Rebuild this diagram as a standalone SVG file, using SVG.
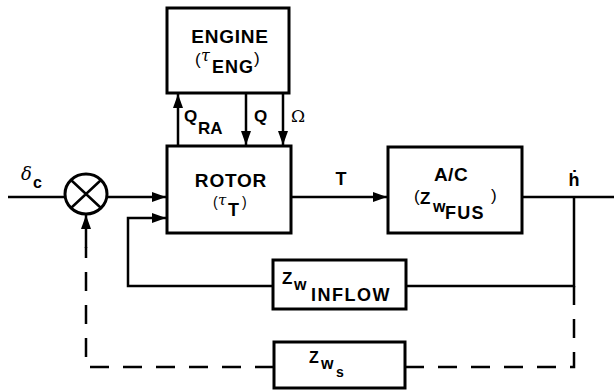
<svg xmlns="http://www.w3.org/2000/svg" width="614" height="391" viewBox="0 0 614 391">
<style>
.box{fill:#fff;stroke:#000;stroke-width:3}
.ln{fill:none;stroke:#000;stroke-width:2.5}
.dash{fill:none;stroke:#000;stroke-width:2.5;stroke-dasharray:19 14}
.t{font-family:"Liberation Sans","DejaVu Sans",Arial,sans-serif;font-weight:bold;fill:#000}
.g{font-family:"DejaVu Serif","Liberation Serif",serif;fill:#000}
</style>
<defs>
<marker id="ah" markerUnits="userSpaceOnUse" markerWidth="14" markerHeight="10" viewBox="0 0 14 10" refX="14" refY="5" orient="auto">
<path d="M0,0 L14,5 L0,10 Z" fill="#000"/>
</marker>
</defs>
<rect width="614" height="391" fill="#fff"/>

<g id="connectors">
<path class="ln" d="M8,197 H65"/>
<path class="ln" d="M107,197 H166" marker-end="url(#ah)"/>
<path class="ln" d="M291,197 H387" marker-end="url(#ah)"/>
<path class="ln" d="M522,197 H614"/>
<path class="ln" d="M574,197 V286 H406"/>
<path class="ln" d="M273,286 H128 V218 H166" marker-end="url(#ah)"/>
<path class="ln" d="M178,146 V94" marker-end="url(#ah)"/>
<path class="ln" d="M246,93 V145" marker-end="url(#ah)"/>
<path class="ln" d="M283,93 V145" marker-end="url(#ah)"/>
<path class="dash" d="M574,286 V367 H405"/>
<path class="dash" d="M274,367 H86 V247"/>
<path class="ln" d="M86,248 V215" marker-end="url(#ah)"/>
</g>

<g id="sum">
<ellipse cx="86" cy="194" rx="21" ry="20" fill="#fff" stroke="#000" stroke-width="3"/>
<path class="ln" d="M71,180 L101,208 M101,180 L71,208"/>
</g>

<g id="engine">
<rect class="box" x="167" y="8" width="122" height="85"/>
<text class="t" x="230" y="43" font-size="19" letter-spacing="0.8" text-anchor="middle">ENGINE</text>
<text class="t" font-size="17"><tspan x="195" y="65" font-weight="normal">(</tspan><tspan class="g" x="201" y="61" font-size="16" font-style="italic" font-weight="normal">τ</tspan><tspan x="212" y="73" font-size="18" letter-spacing="1">ENG</tspan><tspan x="254" y="64" font-weight="normal">)</tspan></text>
</g>

<g id="rotor">
<rect class="box" x="167" y="146" width="124" height="87"/>
<text class="t" x="231" y="187" font-size="19" letter-spacing="0.8" text-anchor="middle">ROTOR</text>
<text class="t" font-size="14"><tspan x="213" y="207" font-weight="normal">(</tspan><tspan class="g" x="218" y="205" font-size="15" font-style="italic" font-weight="normal">τ</tspan><tspan x="228" y="216" font-size="18">T</tspan><tspan x="242" y="207" font-weight="normal">)</tspan></text>
</g>

<g id="ac">
<rect class="box" x="388" y="147" width="134" height="86"/>
<text class="t" x="451" y="181" font-size="19" letter-spacing="0.5" text-anchor="middle">A/C</text>
<text class="t" font-size="17"><tspan x="414" y="202" font-weight="normal">(</tspan><tspan x="420" y="204" font-size="17">Z</tspan><tspan x="433" y="212" font-size="16">w</tspan><tspan x="445" y="219" font-size="18" letter-spacing="1.2">FUS</tspan><tspan x="491" y="201" font-weight="normal">)</tspan></text>
</g>

<g id="inflow">
<rect class="box" x="273" y="260" width="133" height="49"/>
<text class="t" font-size="17"><tspan x="282" y="284">Z</tspan><tspan x="294" y="290" font-size="16">w</tspan><tspan x="311" y="301" font-size="18" letter-spacing="1.5">INFLOW</tspan></text>
</g>

<g id="zws">
<rect class="box" x="274" y="342" width="131" height="46"/>
<text class="t" font-size="16"><tspan x="309" y="363">Z</tspan><tspan x="321" y="369" font-size="16">w</tspan><tspan x="336" y="377" font-size="14">s</tspan></text>
</g>

<g id="labels">
<text font-size="18"><tspan class="g" x="21" y="180" font-style="italic">δ</tspan><tspan class="t" x="33" y="188" font-size="16">c</tspan></text>
<text class="t" x="341" y="185" font-size="18" text-anchor="middle">T</text>
<text class="t" x="574" y="186" font-size="18" text-anchor="middle">ḣ</text>
<text class="t" font-size="17"><tspan x="184" y="122">Q</tspan><tspan x="198" y="134">RA</tspan></text>
<text class="t" x="254" y="122" font-size="17">Q</text>
<text class="g" x="291" y="122" font-size="17">Ω</text>
</g>
</svg>
